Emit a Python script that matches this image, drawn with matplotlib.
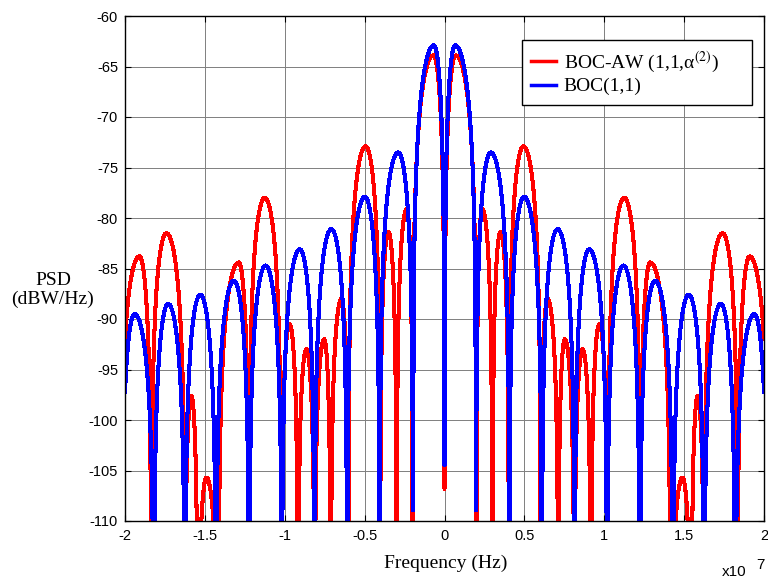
import numpy as np
import matplotlib
matplotlib.use("Agg")
import matplotlib.pyplot as plt

plt.rcParams['font.family'] = ['Liberation Sans', 'DejaVu Sans']
plt.rcParams['mathtext.fontset'] = 'stix'

# ---- data (right half, MHz; spectrum is symmetric) ----
# BOC-AW (1,1,alpha^(2)) : lobe nulls, lobe peak positions, lobe peak levels (dBW/Hz)
red_nulls = [0.0, 2.0, 3.0, 4.03, 6.02, 7.12, 8.13, 9.17, 10.22, 12.25, 14.15, 15.45, 16.25, 18.36, 20.31]
red_peak_f = [0.70, 2.36, 3.51, 4.94, 6.45, 7.53, 8.65, 9.70, 11.25, 12.88, 14.90, 15.85, 17.41, 19.10]
red_peak_db = [-63.9, -79.1, -81.4, -72.9, -88.0, -92.0, -93.0, -90.5, -78.0, -84.4, -105.7, -97.6, -81.5, -83.8]
red_center_db = -106.8

# BOC(1,1)
blue_nulls = [0.0, 1.97, 4.06, 6.09, 8.14, 10.18, 12.23, 14.3, 16.25, 18.2, 20.22]
blue_peak_f = [0.66, 2.90, 4.98, 7.08, 9.06, 11.20, 13.18, 15.29, 17.30, 19.40]
blue_peak_db = [-62.9, -73.5, -77.9, -81.1, -83.1, -84.7, -86.2, -87.6, -88.5, -89.5]
blue_center_db = -104.5

series_labels = ['BOC-AW (1,1,\u03b1$^{(2)}$)', 'BOC(1,1)']
series_colors = ['#ff0000', '#0000ff']

xticks = [-2, -1.5, -1, -0.5, 0, 0.5, 1, 1.5, 2]
xtick_labels = ['-2', '-1.5', '-1', '-0.5', '0', '0.5', '1', '1.5', '2']
yticks = [-110, -105, -100, -95, -90, -85, -80, -75, -70, -65, -60]
ytick_labels = [str(v) for v in yticks]


def lobe_curve(f, nulls, pf, pdb, center_db):
    af = np.abs(f)
    y = np.full_like(f, -300.0)
    for i in range(len(pf)):
        a, b, p = nulls[i], nulls[i + 1], pf[i]
        m = (af >= a) & (af <= b)
        x = af[m]
        ph = np.where(x <= p, 0.5 * np.pi * (x - a) / (p - a),
                      0.5 * np.pi + 0.5 * np.pi * (x - p) / (b - p))
        v = pdb[i] + 20 * np.log10(np.maximum(np.sin(ph), 1e-15))
        y[m] = np.maximum(y[m], v)
    y[af == 0] = center_db
    return np.maximum(y, -300.0)


f_mhz = np.linspace(-20, 20, 2001)
red_db = lobe_curve(f_mhz, red_nulls, red_peak_f, red_peak_db, red_center_db)
blue_db = lobe_curve(f_mhz, blue_nulls, blue_peak_f, blue_peak_db, blue_center_db)
f_hz = f_mhz * 1e6

fig = plt.figure(figsize=(7.68, 5.81), dpi=100)
ax = fig.add_axes([125 / 768, 1 - 521 / 581, (764 - 125) / 768, (521 - 16) / 581])

ax.plot(f_hz, red_db, color=series_colors[0], lw=2.2, label=series_labels[0], antialiased=False)
ax.plot(f_hz, blue_db, color=series_colors[1], lw=2.2, label=series_labels[1], antialiased=False)

ax.set_xlim(-2e7, 2e7)
ax.set_ylim(-110, -60)
ax.set_xticks([t * 1e7 for t in xticks])
ax.set_xticklabels(xtick_labels)
ax.set_yticks(yticks)
ax.set_yticklabels(ytick_labels)
ax.tick_params(direction='in', length=4, width=0.8, labelsize=10.5, top=True, right=True)
ax.tick_params(axis='x', pad=6)
ax.tick_params(axis='y', pad=5)
ax.grid(True, color='#7f7f7f', lw=0.7)
ax.set_axisbelow(True)
for s in ax.spines.values():
    s.set_linewidth(1.0)
    s.set_color('black')

serif = ['Liberation Serif', 'DejaVu Serif']
x0 = (521.7 - 125) / 639
w = (751.7 - 521.7) / 639
ytop = 1 - (40 - 16) / 505
h = (105 - 40) / 505
leg = ax.legend(loc='upper left', bbox_to_anchor=(x0, ytop - h, w, h), mode='expand',
                borderaxespad=0, frameon=True, fancybox=False, edgecolor='black',
                framealpha=1, handlelength=1.25, handletextpad=0.4, borderpad=0.5,
                labelspacing=0.15, prop={'family': serif, 'size': 14})
leg.get_frame().set_linewidth(1.0)
for line in leg.get_lines():
    line.set_linewidth(2.5)

fig.text(445.5 / 768, 1 - 563 / 581, 'Frequency (Hz)', ha='center', va='center',
         family=serif, fontsize=14)
fig.text(53 / 768, 1 - 290 / 581, 'PSD\n(dBW/Hz)', ha='center', va='center',
         multialignment='center', family=serif, fontsize=14, linespacing=1.2)
fig.text(734 / 768, 1 - 572 / 581, 'x10', ha='center', va='center', fontsize=11)
fig.text(760 / 768, 1 - 565 / 581, '7', ha='center', va='center', fontsize=11)

fig.savefig('out.png', dpi=100)
